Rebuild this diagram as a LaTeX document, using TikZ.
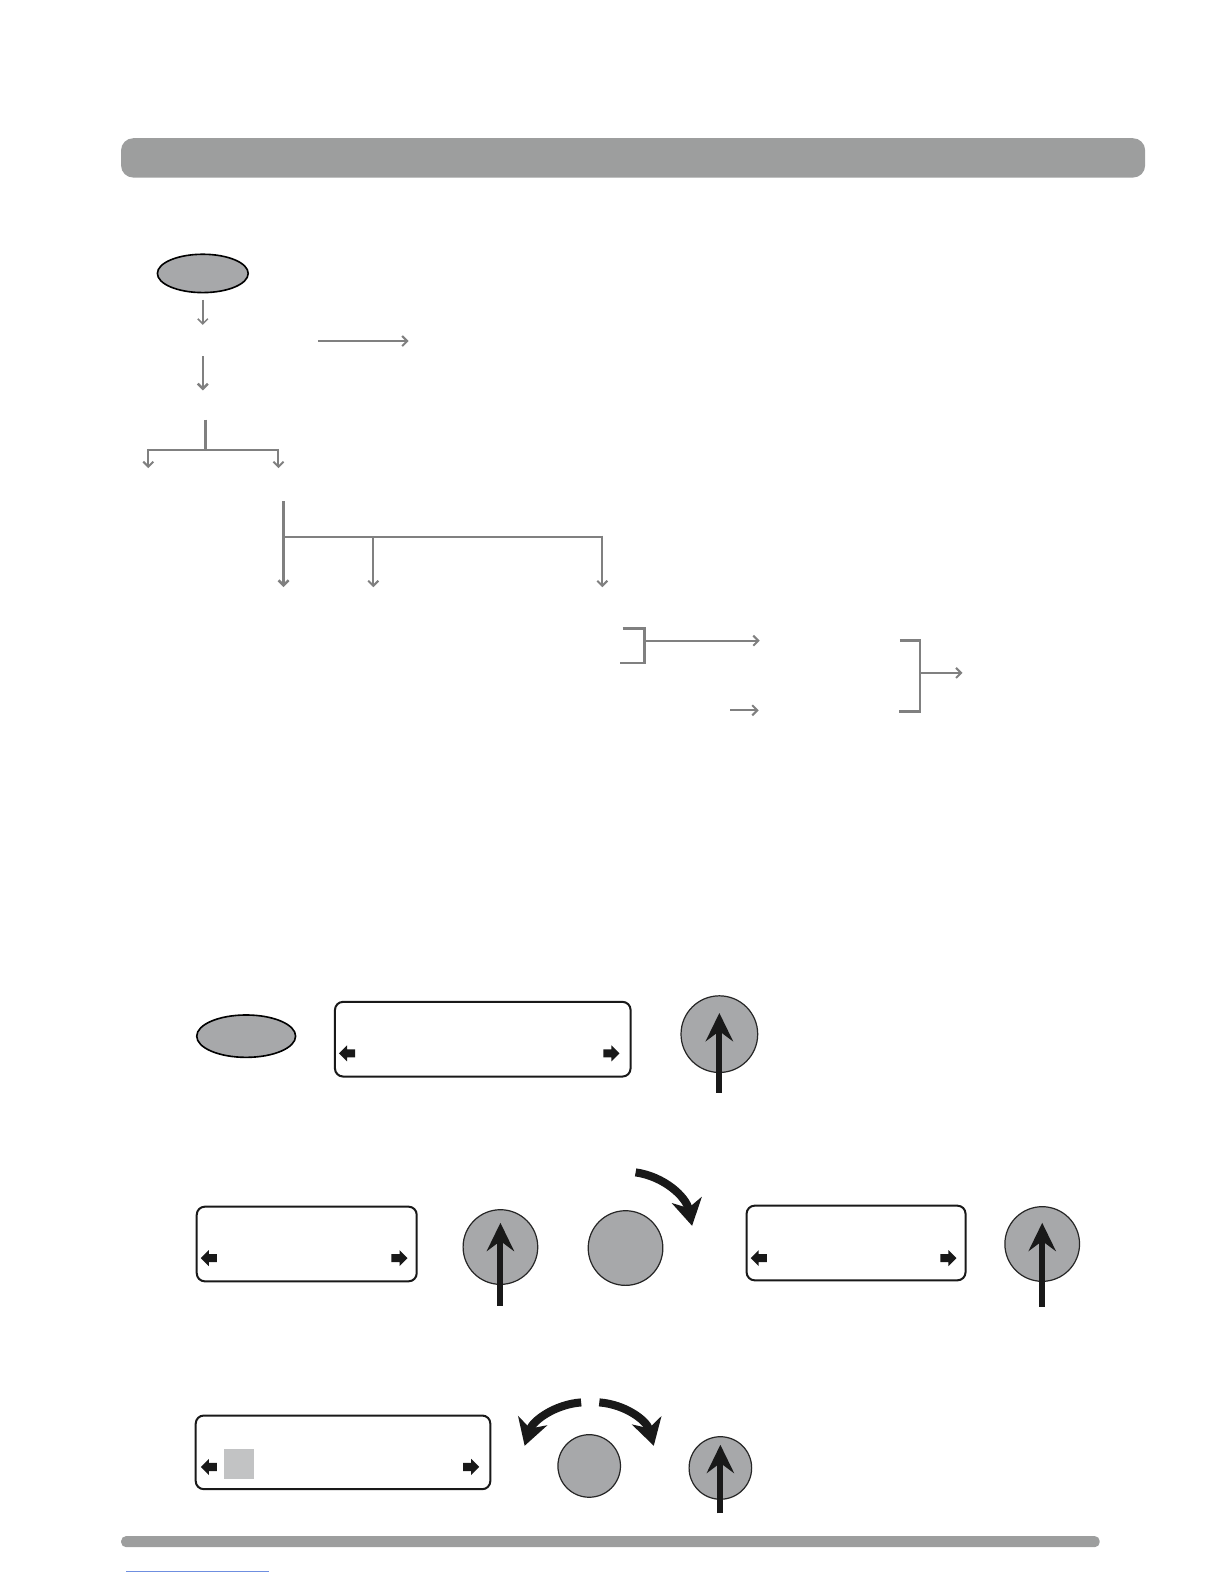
\documentclass[tikz,border=0pt]{standalone}
\usetikzlibrary{arrows.meta,shapes.geometric}
\definecolor{flowgray}{HTML}{808080}
\definecolor{bargray}{HTML}{9D9E9E}
\definecolor{btngray}{HTML}{A7A8AA}
\definecolor{sqgray}{HTML}{C2C3C4}
\definecolor{linkblue}{HTML}{6F8FE0}
\begin{document}
\begin{tikzpicture}[x=0.5pt,y=-0.5pt,
  flow/.style={draw=flowgray, line width=1pt, -{Straight Barb[length=2.5pt,width=5pt]}},
  flowline/.style={draw=flowgray, line width=1.2pt},
  bar/.style={fill=bargray, draw=none, rounded corners=6pt, inner sep=0pt},
  oval/.style={ellipse, draw=black, line width=0.8pt, fill=btngray, inner sep=0pt},
  btn/.style={circle, draw=black!85, line width=0.6pt, fill=btngray, inner sep=0pt},
  display/.style={rectangle, draw=black!90, line width=1pt, rounded corners=4pt, inner sep=0pt},
  push/.style={draw=black!90, line width=3pt, -{Stealth[length=14pt,width=13.5pt,inset=5pt]}},
  turn/.style={draw=black!90, line width=4pt, -{Stealth[length=13pt,width=15pt,inset=4pt]}},
  leftblk/.pic={\fill[black!90] (-8,0) -- (0,-8) -- (0,-4) -- (8,-4) -- (8,4) -- (0,4) -- (0,8) -- cycle;},
  rightblk/.pic={\fill[black!90] (8,0) -- (0,-8) -- (0,-4) -- (-8,-4) -- (-8,4) -- (0,4) -- (0,8) -- cycle;}
]
\useasboundingbox (0,0) rectangle (1213,1570);

% header bar
\node[bar, minimum width=507.5pt, minimum height=19.5pt] (header) at (627.5,156.5) {};

% flowchart
\node[oval, minimum width=45pt, minimum height=19pt] (start) at (201,271) {};
\draw[flow, line width=0.75pt] (201,297) -- (201,322);
\draw[flow, line width=1.2pt] (201,353) -- (201,387);
\draw[flow] (315,338) -- (405,338);

\coordinate (t1top) at (204,416);
\coordinate (t1mid) at (204,446);
\draw[flowline, line width=1.4pt] (t1top) -- (t1mid);
\draw[flowline] (147,446) -- (276,446);
\draw[flow] (147,445) -- (147,464);
\draw[flow] (276,445) -- (276,464);

\coordinate (t2top) at (281,497);
\draw[flow, line width=1.3pt] (t2top) -- (281,582);
\draw[flowline] (281,532) -- (597,532);
\draw[flow] (370,532) -- (370,582);
\draw[flow] (597,531) -- (597,582);

\draw[flowline] (617,623) -- (639,623) -- (639,657) -- (615,657);
\draw[flow] (639,635) -- (753,635);
\draw[flow] (724,704) -- (752,704);

\draw[flowline] (892,635) -- (912,635) -- (912,705) -- (891,705);
\draw[flow] (912,667) -- (954,667);

% bottom section, row 1
\node[oval, minimum width=49pt, minimum height=21pt] (ov2) at (244,1027) {};
\node[display, minimum width=146.5pt, minimum height=37pt] (d1) at (478.5,1030) {};
\pic at (344,1044) {leftblk};
\pic at (606,1044) {rightblk};
\node[btn, minimum size=38pt] (b1) at (713,1025) {};
\draw[push] (713,1083) -- (713,1004);

% row 2
\node[display, minimum width=109pt, minimum height=37pt] (d2) at (304,1233) {};
\pic at (207,1247) {leftblk};
\pic at (396,1247) {rightblk};
\node[btn, minimum size=37pt] (b2) at (496,1236) {};
\draw[push] (496,1294) -- (496,1212);
\node[btn, minimum size=37pt] (b3) at (620,1237) {};
\draw[turn] (630,1162) .. controls (658,1166) and (680,1186) .. (686,1215);
\node[display, minimum width=108.5pt, minimum height=37pt] (d3) at (848.5,1232) {};
\pic at (752,1247) {leftblk};
\pic at (940,1247) {rightblk};
\node[btn, minimum size=37pt] (b4) at (1033,1233) {};
\draw[push] (1033,1295) -- (1033,1212);

% row 3
\node[display, minimum width=146pt, minimum height=36.5pt] (d4) at (340,1439.5) {};
\node[fill=sqgray, minimum size=15pt, inner sep=0pt] (sq) at (237,1451) {};
\pic at (207,1454) {leftblk};
\pic at (467,1454) {rightblk};
\node[btn, minimum size=31pt] (b5) at (584,1453) {};
\draw[turn] (576,1390) .. controls (550,1392) and (528,1408) .. (520,1433);
\draw[turn] (594,1390) .. controls (620,1392) and (641,1408) .. (648,1433);
\node[btn, minimum size=31pt] (b6) at (714,1455) {};
\draw[push] (714,1500) -- (714,1432);

% footer
\node[fill=bargray, rounded corners=2.5pt, minimum width=485pt, minimum height=5.5pt, inner sep=0pt] (footer) at (605,1528) {};
\draw[linkblue, line width=0.5pt] (125,1558) -- (267,1558);
\end{tikzpicture}
\end{document}
